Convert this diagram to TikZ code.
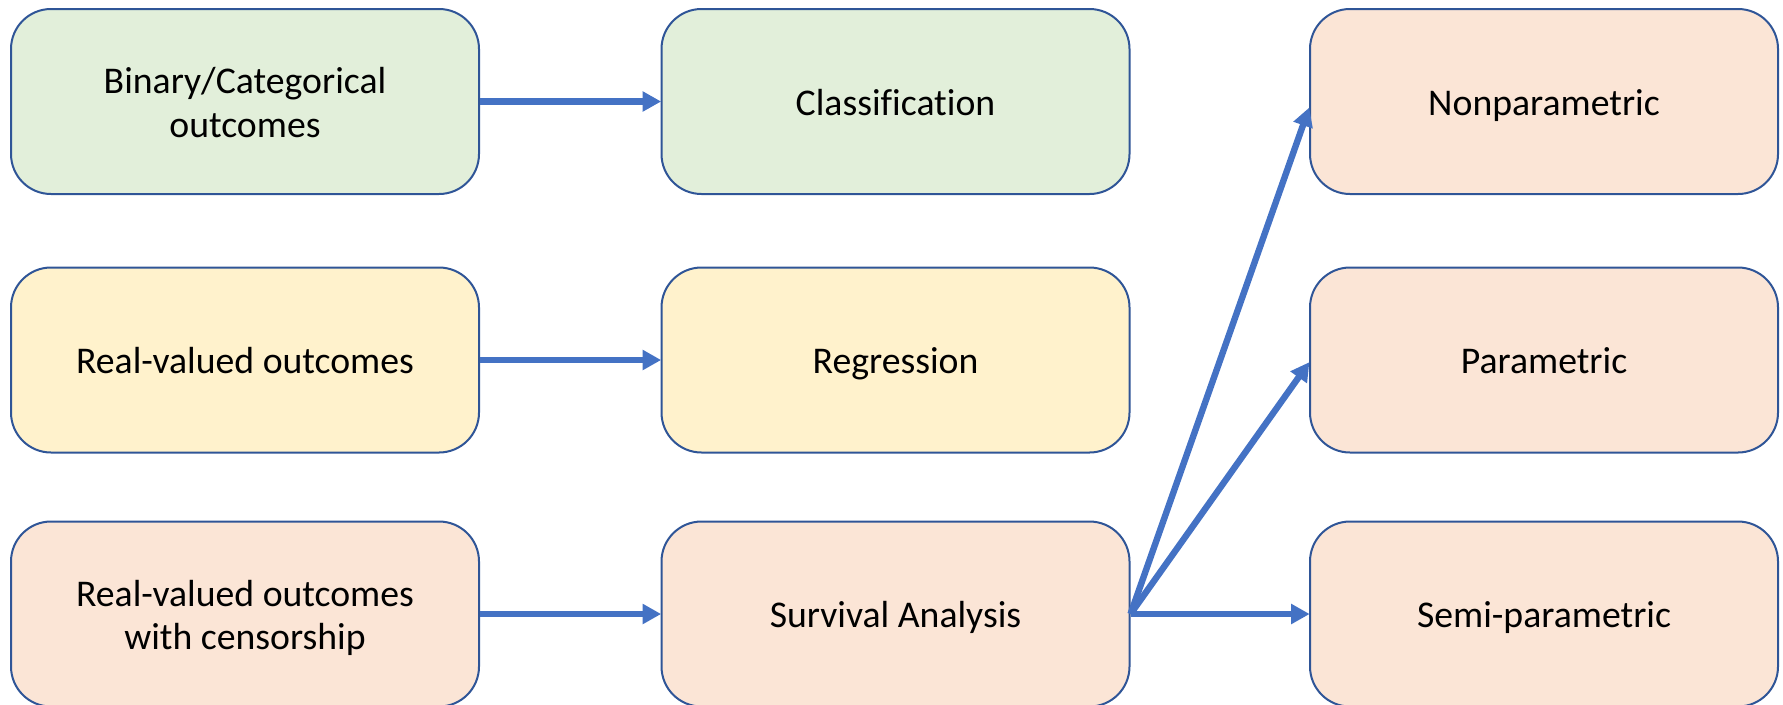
\documentclass[tikz,border=0pt]{standalone}
\usepackage{fontspec}
\setmainfont[Ligatures=NoCommon]{Carlito}
\usetikzlibrary{arrows.meta}
\definecolor{bordc}{HTML}{2F5597}
\definecolor{arrc}{HTML}{4472C4}
\definecolor{greenf}{HTML}{E2EFDA}
\definecolor{yellowf}{HTML}{FFF2CC}
\definecolor{peachf}{HTML}{FBE5D6}
\tikzset{
  box/.style={draw=bordc, line width=1.5pt, rounded corners=30pt,
    minimum width=351pt, minimum height=138.75pt, align=center,
    font=\fontsize{28.3}{32.6}\selectfont, inner sep=0pt, anchor=center,
    text height=26pt, text depth=5.6pt},
  twoline/.style={text height=59.5pt, text depth=5.6pt},
  conn/.style={draw=arrc, line width=4.8pt,
    -{Triangle[length=14pt,width=14.5pt]}, shorten >=-0.5pt}
}
\begin{document}
\begin{tikzpicture}[x=0.75pt,y=-0.75pt]
\useasboundingbox (0,0) rectangle (1783,704);
\node[box, twoline, fill=greenf] (bin) at (245,101.5) {Binary/Categorical\\outcomes};
\node[box, fill=greenf] (cls) at (895.5,101.5) {Classification};
\node[box, fill=peachf] (non) at (1544,101.5) {Nonparametric};
\node[box, fill=yellowf] (real) at (245,360) {Real-valued outcomes};
\node[box, fill=yellowf] (reg) at (895.5,360) {Regression};
\node[box, fill=peachf] (par) at (1544,360) {Parametric};
\node[box, twoline, fill=peachf] (cen) at (245,614) {Real-valued outcomes\\with censorship};
\node[box, fill=peachf] (surv) at (895.5,614) {Survival Analysis};
\node[box, fill=peachf] (semi) at (1544,614) {Semi-parametric};
\draw[conn] (bin.east) -- (cls.west);
\draw[conn] (real.east) -- (reg.west);
\draw[conn] (cen.east) -- (surv.west);
\draw[conn] (surv.east) -- ([yshift=-5pt]non.west);
\draw[conn] (surv.east) -- ([yshift=-2pt]par.west);
\draw[conn] (surv.east) -- (semi.west);
\end{tikzpicture}
\end{document}
